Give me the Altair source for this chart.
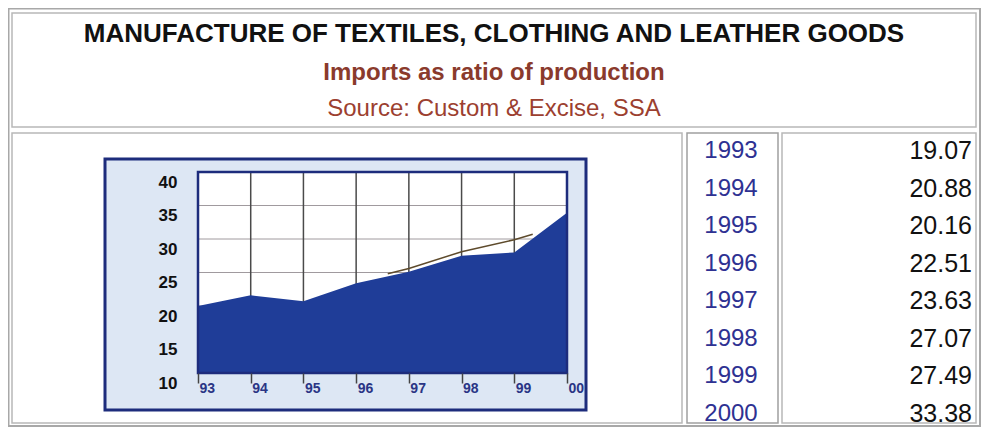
import altair as alt
import pandas as pd

# ---- data ----
years = [1993, 1994, 1995, 1996, 1997, 1998, 1999, 2000]
table_values = [19.07, 20.88, 20.16, 22.51, 23.63, 27.07, 27.49, 33.38]
# area as drawn in the small chart
chart_values = [20.0, 21.6, 20.7, 23.4, 25.1, 27.5, 28.0, 33.9]
# thin dark trend line visible above the area
line_years = [1996.6, 1997.0, 1998.0, 1999.0, 1999.35]
line_values = [24.8, 25.6, 28.1, 29.9, 30.7]
y_ticks = [10, 15, 20, 25, 30, 35, 40]
y_grid = [15, 20, 25, 30, 35]
x_grid = [1994, 1995, 1996, 1997, 1998, 1999]

title = "MANUFACTURE OF TEXTILES, CLOTHING AND LEATHER GOODS"
subtitle = "Imports as ratio of production"
source = "Source: Custom & Excise, SSA"

SANS = "Liberation Sans, Arial, sans-serif"
NAVY = "#1d2c7c"
AREA = "#1f3d98"

one = pd.DataFrame({"_": [0]})
df_area = pd.DataFrame({"year": years, "ratio": chart_values})
df_line = pd.DataFrame({"year": line_years, "ratio": line_values})
df_table = pd.DataFrame({"year": years, "value": table_values})
df_hgrid = pd.DataFrame({"v": y_grid})
df_vgrid = pd.DataFrame({"year": x_grid})

W, H = 369, 201
xscale = alt.Scale(domain=[1993, 2000], nice=False, zero=False)
yscale = alt.Scale(domain=[10, 40], nice=False, zero=False)
row_scale = alt.Scale(domain=[1993, 2000], range=[-21, 242])

x_axis = alt.Axis(
    values=years, labelExpr="slice(toString(datum.value), 2)", title=None,
    grid=False, domain=False, ticks=True, tickSize=10, tickColor="#444444",
    tickWidth=1.5, labelAlign="left", labelBaseline="top", labelPadding=-2,
    labelOffset=1, labelFlush=False, labelColor="#2a3585", labelFont=SANS,
    labelFontSize=14, labelFontWeight="bold", zindex=1,
)
y_axis = alt.Axis(
    values=y_ticks, title=None, grid=False, domain=False, ticks=False,
    labelPadding=21, labelOffset=10, labelBaseline="middle", labelColor="#111111",
    labelFont=SANS, labelFontSize=17, labelFontWeight="bold", zindex=1,
)


def box(x1, y1, x2, y2, stroke, sw, fill=None):
    kw = dict(stroke=stroke, strokeWidth=sw)
    if fill is None:
        kw["fillOpacity"] = 0
        kw["fill"] = "white"
    else:
        kw["fill"] = fill
    return alt.Chart(one).mark_rect(**kw).encode(
        x=alt.value(x1), x2=alt.value(x2), y=alt.value(y1), y2=alt.value(y2)
    )


def label(txt, x, y, size, color, weight="normal", font=SANS, align="center"):
    return alt.Chart(one).mark_text(
        text=txt, font=font, fontSize=size, color=color, fontWeight=weight,
        align=align, baseline="middle",
    ).encode(x=alt.value(x), y=alt.value(y))


GRAY = "#a8a8a8"
layers = [
    # page frame and table cells
    box(-189.5, -163.5, 782, 254, GRAY, 2),
    box(-186, -159, 778, -45, "#b8b8b8", 1.5),
    box(-186, -39, 484, 251, "#b8b8b8", 1.5),
    box(489, -39, 580, 251, "#a0a0a0", 1.5),
    box(584, -39, 778, 251, "#b8b8b8", 1.5),
    # chart panel
    box(-93, -13, 388, 238, NAVY, 3, fill="#dde7f4"),
    box(0, 0, W, H, NAVY, 0, fill="white"),
    alt.Chart(df_hgrid).mark_rule(color="#a09a9e", strokeWidth=1).encode(
        y=alt.Y("v:Q", scale=yscale, axis=None)
    ),
    alt.Chart(df_vgrid).mark_rule(color="#4a4a4a", strokeWidth=1.5).encode(
        x=alt.X("year:Q", scale=xscale, axis=x_axis)
    ),
    alt.Chart(df_area).mark_area(color=AREA, opacity=1, line=False).encode(
        x=alt.X("year:Q", scale=xscale, axis=x_axis),
        y=alt.Y("ratio:Q", scale=yscale, axis=y_axis),
        y2=alt.datum(10),
    ),
    alt.Chart(df_line).mark_line(color="#5e4b2c", strokeWidth=1.5).encode(
        x=alt.X("year:Q", scale=xscale, axis=x_axis),
        y=alt.Y("ratio:Q", scale=yscale, axis=None),
    ),
    box(0, 0, W, H, NAVY, 2.5),
    # titles
    label(title, 296, -138, 26, "#111111", "bold"),
    label(subtitle, 296, -99, 24, "#8a3a2c", "bold"),
    label(source, 296, -63, 24, "#9c3f30"),
    # table
    alt.Chart(df_table).mark_text(
        font=SANS, fontSize=24, color="#2e3192", align="center", baseline="middle"
    ).encode(
        x=alt.value(533),
        y=alt.Y("year:Q", scale=row_scale, axis=None),
        text=alt.Text("year:Q", format="d"),
    ),
    alt.Chart(df_table).mark_text(
        font=SANS, fontSize=25, color="#111111", align="right", baseline="middle"
    ).encode(
        x=alt.value(774),
        y=alt.Y("year:Q", scale=row_scale, axis=None),
        text=alt.Text("value:Q", format=".2f"),
    ),
]

chart = (
    alt.layer(*layers)
    .resolve_scale(y="independent")
    .properties(
        width=W, height=H,
        autosize=alt.AutoSizeParams(type="none"),
        padding={"left": 190, "top": 164, "right": 415, "bottom": 57},
        background="white",
    )
    .configure_view(strokeWidth=0)
)

chart.save("out.html", embed_options={"renderer": "svg", "actions": False})
